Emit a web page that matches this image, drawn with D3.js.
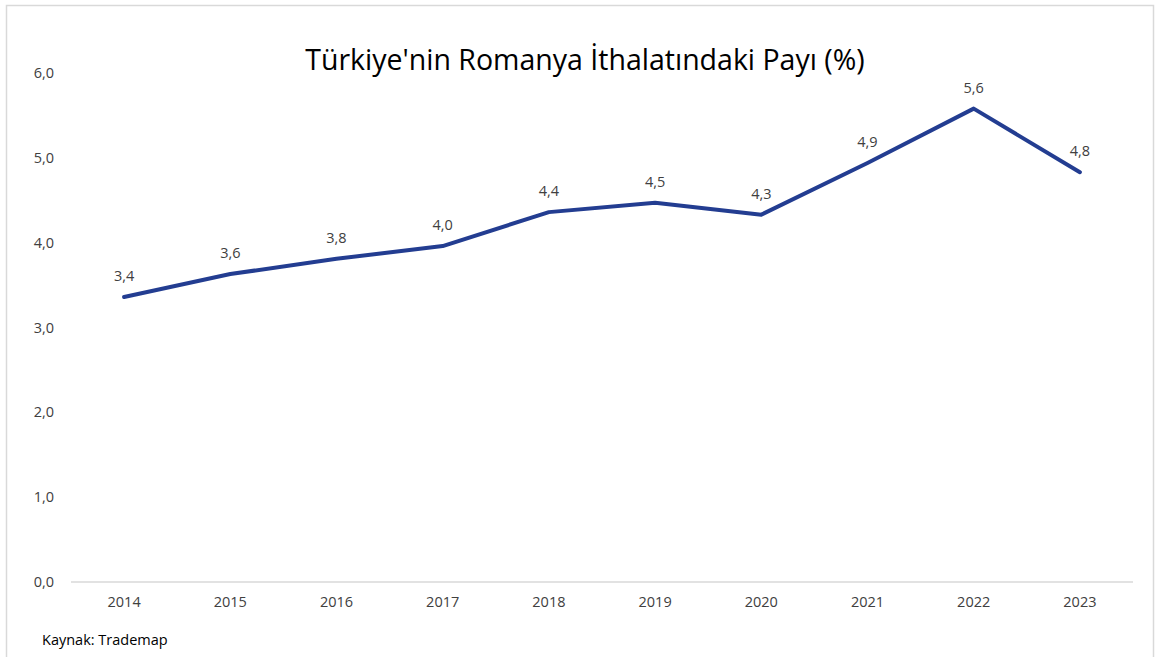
<!DOCTYPE html>
<html>
<head>
<meta charset="utf-8">
<script src="https://cdn.jsdelivr.net/npm/d3@7"></script>
<style>
  body { margin: 0; background: #fff; }
  svg { font-family: "Open Sans", "Liberation Sans", sans-serif; }
</style>
</head>
<body>
<svg width="1168" height="657"></svg>
<script>
var years = ["2014","2015","2016","2017","2018","2019","2020","2021","2022","2023"];
var shares = [3.36, 3.63, 3.81, 3.96, 4.36, 4.47, 4.33, 4.94, 5.58, 4.83];
var yTicks = [0, 1, 2, 3, 4, 5, 6];

var svg = d3.select("svg"),
    margin = {top: 73, right: 35, bottom: 75, left: 71},
    width = 1168 - margin.left - margin.right,
    height = 657 - margin.top - margin.bottom;

// chart frame
svg.append("rect")
    .attr("x", 6.5).attr("y", 5.5)
    .attr("width", 1147).attr("height", 660)
    .attr("fill", "#fff")
    .attr("stroke", "#d9d9d9")
    .attr("stroke-width", 1.5);

var g = svg.append("g").attr("transform", "translate(" + margin.left + "," + margin.top + ")");

var x = d3.scaleBand().domain(years).range([0, 1062]),
    y = d3.scaleLinear().domain([0, 6]).range([509, 0]);

var fmt = function(v) { return d3.format(".1f")(v).replace(".", ","); };

svg.append("text")
    .attr("x", 585).attr("y", 70)
    .attr("text-anchor", "middle")
    .attr("font-size", 28.5)
    .attr("fill", "#000")
    .text("Türkiye'nin Romanya İthalatındaki Payı (%)");

// y axis labels
g.selectAll(".ytick")
    .data(yTicks)
  .enter().append("text")
    .attr("class", "ytick")
    .attr("x", -17)
    .attr("y", function(d) { return y(d); })
    .attr("dy", "0.35em")
    .attr("text-anchor", "end")
    .attr("font-size", 14.5)
    .attr("fill", "#404040")
    .text(fmt);

// x axis line
g.append("line")
    .attr("x1", 0).attr("x2", 1062)
    .attr("y1", y(0)).attr("y2", y(0))
    .attr("stroke", "#d9d9d9")
    .attr("stroke-width", 1.5);

var xAxis = g.append("g")
    .attr("transform", "translate(0," + y(0) + ")")
    .call(d3.axisBottom(x).tickSize(0).tickPadding(15));
xAxis.select(".domain").remove();
xAxis.selectAll("text")
    .attr("font-size", 14.5)
    .attr("font-family", "\"Open Sans\", \"Liberation Sans\", sans-serif")
    .attr("fill", "#404040");

var line = d3.line()
    .x(function(d, i) { return x(years[i]) + x.bandwidth() / 2; })
    .y(function(d) { return y(d); });

g.append("path")
    .datum(shares)
    .attr("d", line)
    .attr("fill", "none")
    .attr("stroke", "#233d91")
    .attr("stroke-width", 4)
    .attr("stroke-linejoin", "round")
    .attr("stroke-linecap", "round");

g.selectAll(".lbl")
    .data(shares)
  .enter().append("text")
    .attr("class", "lbl")
    .attr("x", function(d, i) { return x(years[i]) + x.bandwidth() / 2; })
    .attr("y", function(d) { return y(d) - 16; })
    .attr("text-anchor", "middle")
    .attr("font-size", 14.5)
    .attr("fill", "#404040")
    .text(fmt);

svg.append("text")
    .attr("x", 42).attr("y", 645)
    .attr("font-size", 14.5)
    .attr("fill", "#000")
    .text("Kaynak: Trademap");
</script>
</body>
</html>
